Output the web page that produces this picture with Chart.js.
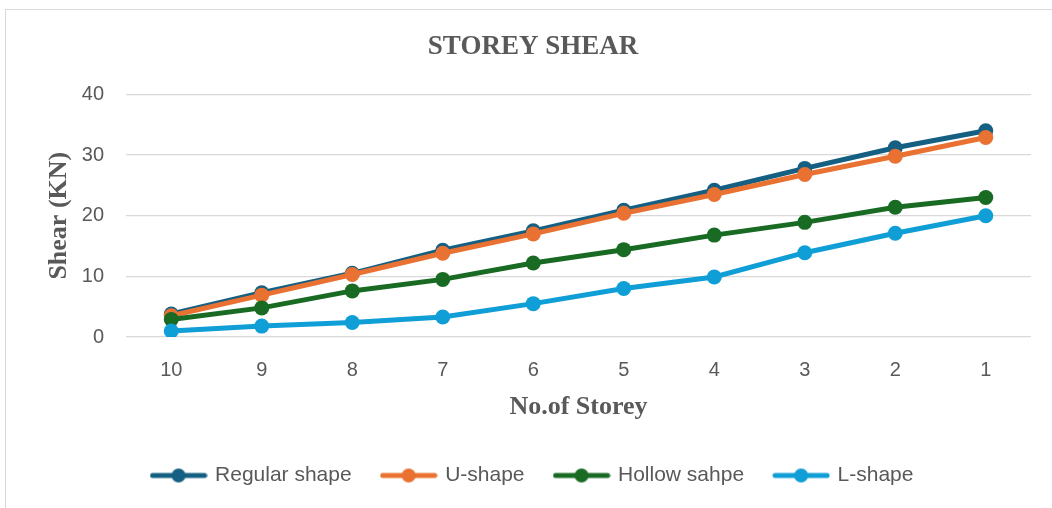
<!DOCTYPE html>
<html>
<head>
<meta charset="utf-8">
<style>
  html, body { margin: 0; padding: 0; background: #fff; }
  body { width: 1052px; height: 508px; position: relative; overflow: hidden; }
  #frame { position: absolute; left: 5px; top: 9px; width: 1100px; height: 600px; border: 1px solid #d9d9d9; }
  #wrap { position: absolute; left: 0; top: 0; width: 1052px; height: 508px; }
</style>
<script src="https://cdn.jsdelivr.net/npm/chart.js@4/dist/chart.umd.min.js"></script>
</head>
<body>
<div id="frame"></div>
<div id="wrap"><canvas id="shearChart"></canvas></div>
<script>
  // storey numbers, top storey first
  const storeys = ['10', '9', '8', '7', '6', '5', '4', '3', '2', '1'];

  // storey shear (kN)
  const regularShape = [3.8, 7.3, 10.5, 14.3, 17.5, 20.9, 24.2, 27.8, 31.2, 34.0];
  const uShape       = [3.5, 6.9, 10.3, 13.8, 17.0, 20.4, 23.5, 26.8, 29.8, 32.9];
  const hollowShape  = [2.9, 4.8, 7.6, 9.5, 12.2, 14.4, 16.8, 18.9, 21.4, 23.0];
  const lShape       = [1.0, 1.8, 2.4, 3.3, 5.5, 8.0, 9.9, 13.9, 17.1, 20.0];

  const colors = {
    regular: '#156082',
    u: '#e97132',
    hollow: '#196b24',
    l: '#0f9ed5',
    text: '#595959',
    grid: '#d9d9d9',
  };

  // legend marker: short line with a dot in the middle
  function legendMarker(color) {
    const c = document.createElement('canvas');
    c.width = 58;
    c.height = 16;
    const ctx = c.getContext('2d');
    ctx.strokeStyle = color;
    ctx.lineWidth = 5;
    ctx.lineCap = 'round';
    ctx.beginPath();
    ctx.moveTo(3, 8);
    ctx.lineTo(55, 8);
    ctx.stroke();
    ctx.fillStyle = color;
    ctx.beginPath();
    ctx.arc(29, 8, 7, 0, Math.PI * 2);
    ctx.fill();
    return c;
  }

  // later series are drawn on top, like the original
  function series(label, data, color, order) {
    return {
      label,
      data,
      order,
      borderColor: color,
      backgroundColor: color,
      borderWidth: 5,
      pointRadius: 7.5,
      pointHoverRadius: 7.5,
      pointBorderWidth: 0,
      pointStyle: 'circle',
      legendStyle: legendMarker(color),
      tension: 0,
    };
  }

  const datasets = [
    series('Regular shape', regularShape, colors.regular, 4),
    series('U-shape', uShape, colors.u, 3),
    series('Hollow sahpe', hollowShape, colors.hollow, 2),
    series('L-shape', lShape, colors.l, 1),
  ];

  const sans = 'Liberation Sans, Arial, sans-serif';
  const serif = 'Liberation Serif, Times New Roman, serif';

  new Chart(document.getElementById('shearChart'), {
    type: 'line',
    data: { labels: storeys, datasets },
    options: {
      responsive: true,
      maintainAspectRatio: false,
      animation: false,
      layout: { padding: { left: 14, right: 0, top: 0, bottom: 12 } },
      plugins: {
        title: {
          display: true,
          text: 'STOREY SHEAR',
          color: colors.text,
          font: { family: serif, size: 27, weight: 'bold' },
          padding: { top: 31, bottom: 31 },
        },
        legend: {
          position: 'bottom',
          labels: {
            color: colors.text,
            font: { family: sans, size: 21 },
            usePointStyle: true,
            pointStyleWidth: 52,
            boxHeight: 16,
            padding: 31,
            generateLabels(chart) {
              return chart.data.datasets.map((d, i) => ({
                text: d.label,
                fillStyle: d.borderColor,
                strokeStyle: d.borderColor,
                lineWidth: 0,
                pointStyle: d.legendStyle,
                fontColor: colors.text,
                hidden: false,
                datasetIndex: i,
              }));
            },
          },
        },
        tooltip: { enabled: false },
      },
      scales: {
        x: {
          offset: true,
          grid: { display: false, drawTicks: false },
          border: { display: false },
          ticks: { color: colors.text, font: { family: sans, size: 20 }, padding: 21 },
          title: {
            display: true,
            text: 'No.of Storey',
            color: colors.text,
            font: { family: serif, size: 26, weight: 'bold' },
            padding: { top: 10, bottom: 11 },
          },
          afterFit(scale) { scale.height = 97; },
        },
        y: {
          min: 0,
          max: 40,
          ticks: { stepSize: 10, color: colors.text, font: { family: sans, size: 20 }, padding: 22 },
          grid: { color: colors.grid, lineWidth: 1.3, drawTicks: false },
          border: { display: false },
          title: {
            display: true,
            text: 'Shear (KN)',
            color: colors.text,
            font: { family: serif, size: 26, weight: 'bold' },
            padding: { top: 30, bottom: 8 },
          },
          afterFit(scale) { scale.width = 112; },
        },
        // empty right-hand axis, only keeps the plot clear of the right edge
        yRight: {
          position: 'right',
          grid: { display: false, drawTicks: false },
          border: { display: false },
          ticks: { display: false },
          afterFit(scale) { scale.width = 21; },
        },
      },
    },
  });
</script>
</body>
</html>
